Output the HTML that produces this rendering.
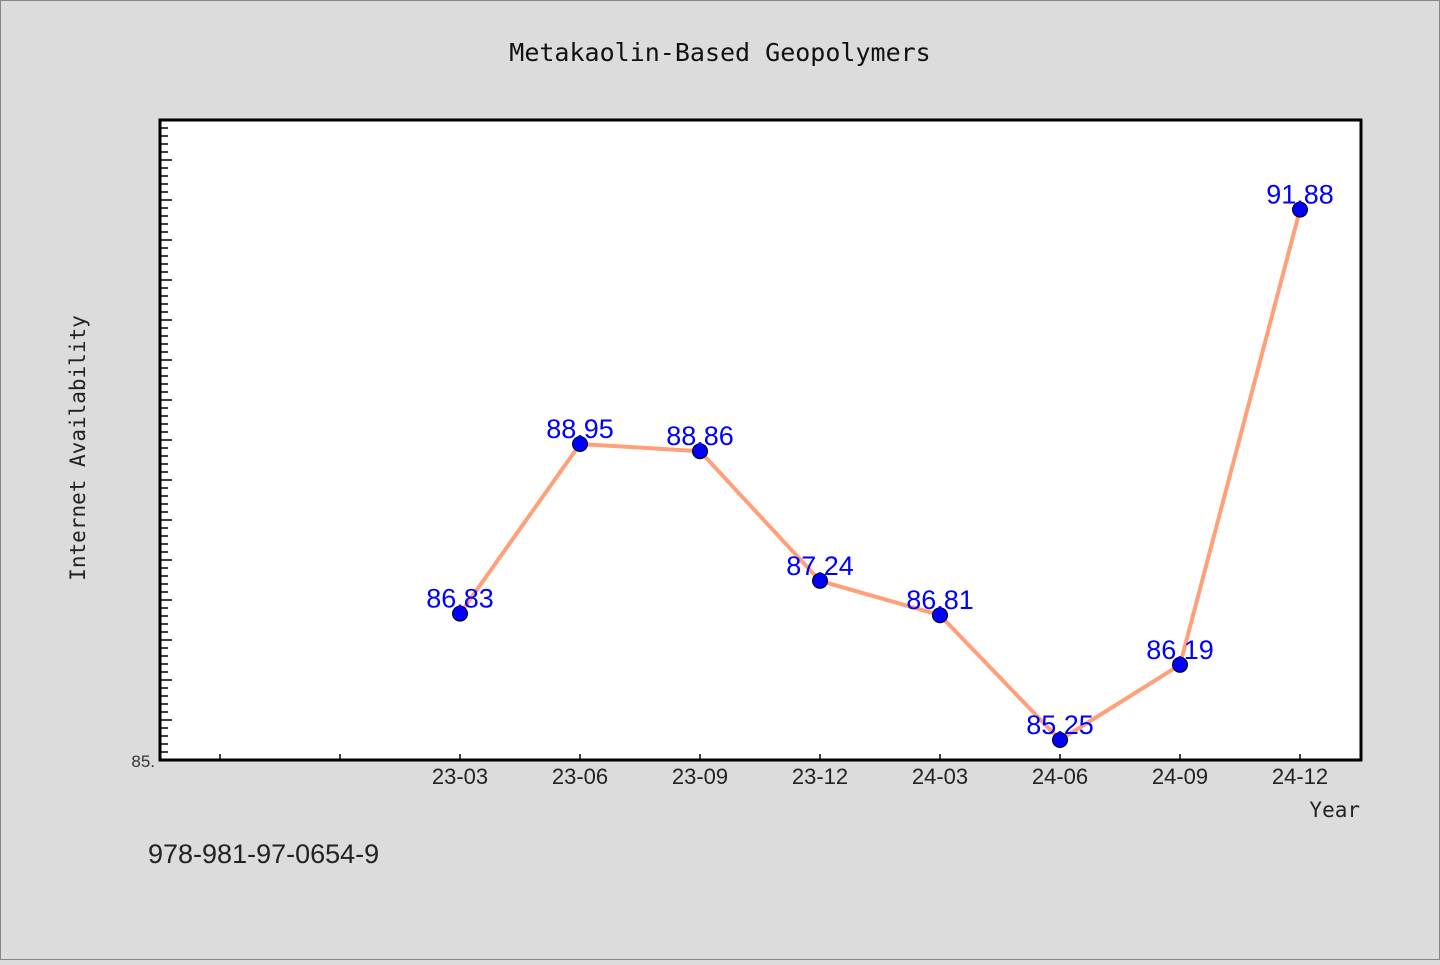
<!DOCTYPE html>
<html><head><meta charset="utf-8"><style>
body{margin:0;width:1440px;height:960px;background:#dcdcdc;font-family:"Liberation Sans","DejaVu Sans",sans-serif;overflow:hidden}
</style></head><body>
<svg width="1440" height="960">
<rect x="0.5" y="0.5" width="1439" height="959" fill="#dcdcdc" stroke="#888"/>
<text x="720" y="61" text-anchor="middle" font-family="DejaVu Sans Mono, Liberation Mono, monospace" font-size="25" fill="#111">Metakaolin-Based Geopolymers</text>
<rect x="160" y="120" width="1201" height="640" fill="#fff"/>
<g id="yt"></g>
<g id="xt"></g>
<rect x="160" y="120" width="1201" height="640" fill="none" stroke="#000" stroke-width="3"/>
<text x="155" y="767" text-anchor="end" font-size="17" fill="#333">85.</text>
<text x="85" y="448" text-anchor="middle" transform="rotate(-90 85 448)" font-family="DejaVu Sans Mono, Liberation Mono, monospace" font-size="21" fill="#222">Internet Availability</text>
<text x="1360" y="817" text-anchor="end" font-family="DejaVu Sans Mono, Liberation Mono, monospace" font-size="21" fill="#222">Year</text>
<text x="148" y="863" font-size="27" fill="#222">978-981-97-0654-9</text>
<g id="series"></g>
</svg>
<script>
const categories=["23-03","23-06","23-09","23-12","24-03","24-06","24-09","24-12"];
const values=[86.83,88.95,88.86,87.24,86.81,85.25,86.19,91.88];
const valueLabels=["86.83","88.95","88.86","87.24","86.81","85.25","86.19","91.88"];
const yMin=85,yMax=93;
const NS="http://www.w3.org/2000/svg";
const x0=160,x1=1361,y0=760,y1=120;
function xs(i){return 460+i*120;}
function ys(v){return y0-(v-yMin)/(yMax-yMin)*(y0-y1);}
function mk(t,a,p){const e=document.createElementNS(NS,t);for(const k in a)e.setAttribute(k,a[k]);p.appendChild(e);return e;}
const yt=document.getElementById('yt');
for(let k=0;k<=80;k++){const v=yMin+k*0.1;const y=ys(v);const major=k%5===0;
const l=mk('line',{x1:160,x2:160+(major?12:8),y1:y,y2:y,stroke:'#000','stroke-width':1.5},yt);

}
const xt=document.getElementById('xt');
for(let i=-2;i<categories.length;i++){const x=xs(i);
const l=mk('line',{x1:x,x2:x,y1:760,y2:754,stroke:'#000','stroke-width':1.5},xt);


if(i>=0){const t=mk('text',{x:x,y:784,'text-anchor':'middle','font-size':22,fill:'#222'},xt);t.textContent=categories[i];

}}
const s=document.getElementById('series');
const pl=mk('polyline',{points:values.map((v,i)=>xs(i)+','+ys(v)).join(' '),fill:'none',stroke:'#ffa07a','stroke-width':4,'stroke-linejoin':'round'},s);


values.forEach((v,i)=>{
const c=mk('circle',{cx:xs(i),cy:ys(v),r:7.5,fill:'#0000ff',stroke:'#000','stroke-width':1},s);


const t=mk('text',{x:xs(i),y:ys(v)-6,'text-anchor':'middle','font-size':27,fill:'#0000ff'},s);t.textContent=valueLabels[i];


});
</script>
</body></html>
